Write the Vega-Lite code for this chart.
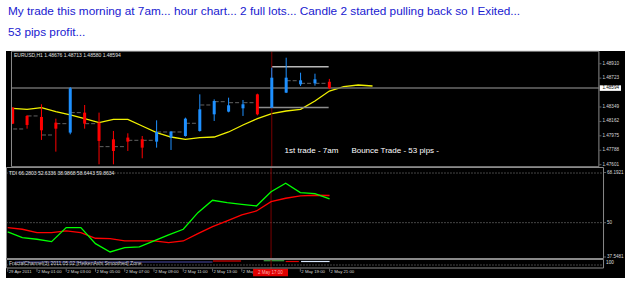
{
  "$schema": "https://vega.github.io/schema/vega-lite/v6.json",
  "background": "#ffffff",
  "padding": {"left": 5, "top": 5, "right": 0, "bottom": 4},
  "bounds": "flush",
  "spacing": 0,
  "title": {
    "text": ["My trade this morning at 7am... hour chart... 2 full lots... Candle 2 started pulling back so I Exited...", "53 pips profit..."],
    "anchor": "start", "frame": "group",
    "font": "Liberation Sans",
    "fontSize": 11.8, "fontWeight": "normal", "color": "#2020d0",
    "lineHeight": 21, "offset": 12, "dx": 2
  },
  "datasets": {
    "one": [{}],
    "candles": [
      {"i": 0, "o": 1.48341, "h": 1.48345, "l": 1.48128, "c": 1.48133, "d": "down"},
      {"i": 1, "o": 1.48233, "h": 1.48246, "l": 1.48068, "c": 1.48116, "d": "down"},
      {"i": 2, "o": 1.48220, "h": 1.48384, "l": 1.47922, "c": 1.48047, "d": "down"},
      {"i": 3, "o": 1.48146, "h": 1.48198, "l": 1.47770, "c": 1.48068, "d": "down"},
      {"i": 4, "o": 1.48017, "h": 1.48608, "l": 1.47995, "c": 1.48591, "d": "up"},
      {"i": 5, "o": 1.48276, "h": 1.48375, "l": 1.48068, "c": 1.48133, "d": "down"},
      {"i": 6, "o": 1.48146, "h": 1.48276, "l": 1.47606, "c": 1.47909, "d": "down"},
      {"i": 7, "o": 1.47930, "h": 1.48038, "l": 1.47606, "c": 1.47779, "d": "down"},
      {"i": 8, "o": 1.47952, "h": 1.48008, "l": 1.47779, "c": 1.47900, "d": "down"},
      {"i": 9, "o": 1.47930, "h": 1.47973, "l": 1.47684, "c": 1.47822, "d": "down"},
      {"i": 10, "o": 1.47900, "h": 1.48176, "l": 1.47822, "c": 1.48025, "d": "up"},
      {"i": 11, "o": 1.47952, "h": 1.48038, "l": 1.47792, "c": 1.48030, "d": "up"},
      {"i": 12, "o": 1.47973, "h": 1.48211, "l": 1.47965, "c": 1.48198, "d": "up"},
      {"i": 13, "o": 1.48038, "h": 1.48513, "l": 1.48030, "c": 1.48319, "d": "up"},
      {"i": 14, "o": 1.48254, "h": 1.48448, "l": 1.48168, "c": 1.48427, "d": "up"},
      {"i": 15, "o": 1.48289, "h": 1.48470, "l": 1.48280, "c": 1.48371, "d": "up"},
      {"i": 16, "o": 1.48332, "h": 1.48440, "l": 1.48233, "c": 1.48384, "d": "up"},
      {"i": 17, "o": 1.48513, "h": 1.48522, "l": 1.48241, "c": 1.48254, "d": "down"},
      {"i": 18, "o": 1.48341, "h": 1.48859, "l": 1.48332, "c": 1.48729, "d": "up"},
      {"i": 19, "o": 1.48535, "h": 1.48988, "l": 1.48530, "c": 1.48729, "d": "up"},
      {"i": 20, "o": 1.48643, "h": 1.48794, "l": 1.48621, "c": 1.48695, "d": "up"},
      {"i": 21, "o": 1.48656, "h": 1.48781, "l": 1.48626, "c": 1.48708, "d": "up"},
      {"i": 22, "o": 1.48676, "h": 1.48713, "l": 1.48580, "c": 1.48594, "d": "down"}
    ],
    "dashes": [
      {"i": 0, "v": 1.48064}, {"i": 1, "v": 1.48233}, {"i": 2, "v": 1.47986}, {"i": 3, "v": 1.48133},
      {"i": 4, "v": 1.48276}, {"i": 5, "v": 1.48133}, {"i": 6, "v": 1.47835}, {"i": 7, "v": 1.47835},
      {"i": 8, "v": 1.47917}, {"i": 9, "v": 1.47917}, {"i": 10, "v": 1.48025}, {"i": 11, "v": 1.48025},
      {"i": 12, "v": 1.48138}, {"i": 13, "v": 1.48375}, {"i": 14, "v": 1.48418}, {"i": 15, "v": 1.48405},
      {"i": 16, "v": 1.48405}, {"i": 19, "v": 1.48690}, {"i": 20, "v": 1.48656}, {"i": 21, "v": 1.48656}
    ],
    "ma": [
      {"i": 0, "v": 1.48332}, {"i": 1, "v": 1.48319}, {"i": 2, "v": 1.48341}, {"i": 3, "v": 1.48289},
      {"i": 4, "v": 1.48246}, {"i": 5, "v": 1.48198}, {"i": 6, "v": 1.48146}, {"i": 7, "v": 1.48189},
      {"i": 8, "v": 1.48189}, {"i": 9, "v": 1.48103}, {"i": 10, "v": 1.48017}, {"i": 11, "v": 1.47960},
      {"i": 12, "v": 1.47930}, {"i": 13, "v": 1.47952}, {"i": 14, "v": 1.47960}, {"i": 15, "v": 1.48025},
      {"i": 16, "v": 1.48116}, {"i": 17, "v": 1.48198}, {"i": 18, "v": 1.48263}, {"i": 19, "v": 1.48297},
      {"i": 20, "v": 1.48319}, {"i": 21, "v": 1.48427}, {"i": 22, "v": 1.48556}, {"i": 23, "v": 1.48613},
      {"i": 24, "v": 1.48634}, {"i": 25, "v": 1.48621}
    ],
    "levels": [
      {"a": 17, "b": 21.95, "v": 1.48341, "k": "entry"},
      {"a": 18, "b": 21.95, "v": 1.48871, "k": "high"}
    ],
    "cur": [{"v": 1.48594, "t": "1.48594"}],
    "pricelabels": [{"v": 1.4891}, {"v": 1.48723}, {"v": 1.48349}, {"v": 1.48162}, {"v": 1.47975}, {"v": 1.47788}, {"v": 1.47601}],
    "notes": [
      {"i": 18.89, "v": 1.47772, "t": "1st trade - 7am"},
      {"i": 23.53, "v": 1.47772, "t": "Bounce Trade - 53 pips -"}
    ],
    "tdi": [
      {"i": 0, "g": 46.63, "r": 48.19}, {"i": 1, "g": 44.56, "r": 47.61}, {"i": 2, "g": 43.98, "r": 46.37},
      {"i": 3, "g": 43.11, "r": 46.37}, {"i": 4, "g": 48.19, "r": 46.99}, {"i": 5, "g": 48.19, "r": 46.37},
      {"i": 6, "g": 42.38, "r": 44.34}, {"i": 7, "g": 39.37, "r": 44.2}, {"i": 8, "g": 40.93, "r": 43.36},
      {"i": 9, "g": 41.19, "r": 43.36}, {"i": 10, "g": 43.36, "r": 43.36}, {"i": 11, "g": 45.54, "r": 42.75},
      {"i": 12, "g": 47.61, "r": 43.36}, {"i": 13, "g": 53.63, "r": 46.01}, {"i": 14, "g": 58.12, "r": 48.55},
      {"i": 15, "g": 57.25, "r": 50.62}, {"i": 16, "g": 56.67, "r": 52.79}, {"i": 17, "g": 56.06, "r": 54.24},
      {"i": 18, "g": 61.24, "r": 57.62}, {"i": 19, "g": 64.29, "r": 58.85}, {"i": 20, "g": 60.88, "r": 59.68},
      {"i": 21, "g": 60.52, "r": 59.94}, {"i": 22, "g": 58.64, "r": 59.86}
    ],
    "tdilevels": [{"v": 68}, {"v": 50}],
    "tdilabels": [{"v": 68.1921, "t": "68.1921"}, {"v": 50, "t": "50"}, {"v": 37.5481, "t": "37.5481"}],
    "seg": [
      {"a": 0.5, "b": 14, "v": 16, "s": "blue"},
      {"a": 14.03, "b": 15.95, "v": 17, "s": "red"},
      {"a": 17.5, "b": 18.9, "v": 17.3, "s": "green"},
      {"a": 19.0, "b": 19.9, "v": 16.5, "s": "red"},
      {"a": 20.05, "b": 22.0, "v": 16.5, "s": "white"}
    ],
    "times": [
      {"i": 0, "t": "29 Apr 2011"}, {"i": 2, "t": "2 May 01:00"}, {"i": 4, "t": "2 May 03:00"},
      {"i": 6, "t": "2 May 05:00"}, {"i": 8, "t": "2 May 07:00"}, {"i": 10, "t": "2 May 09:00"},
      {"i": 12, "t": "2 May 11:00"}, {"i": 14, "t": "2 May 13:00"}, {"i": 16, "t": "2 May"},
      {"i": 20, "t": "2 May 19:00"}, {"i": 22, "t": "2 May 21:00"}
    ]
  },
  "config": {
    "view": {"stroke": null},
    "text": {"font": "Liberation Sans"}
  },
  "vconcat": [
    {
      "width": 620, "height": 116,
      "view": {"fill": "#000000", "stroke": null},
      "layer": [
        {
          "data": {"name": "ma"},
          "mark": {"type": "line", "color": "#f0f000", "strokeWidth": 1.3},
          "encoding": {
            "x": {"field": "i", "type": "quantitative", "scale": {"domain": [-0.116, 42.26], "nice": false, "zero": false}, "axis": null},
            "y": {"field": "v", "type": "quantitative", "scale": {"domain": [1.47571, 1.49075], "nice": false, "zero": false}, "axis": null}
          }
        },
        {
          "data": {"name": "cur"},
          "mark": {"type": "rule", "color": "#6a6a6a", "strokeWidth": 1.5},
          "encoding": {
            "x": {"datum": -0.082, "type": "quantitative", "axis": null}, "x2": {"datum": 40.725},
            "y": {"field": "v", "type": "quantitative", "axis": null}
          }
        },
        {
          "data": {"name": "levels"},
          "mark": {"type": "rule", "strokeWidth": 1.5},
          "encoding": {
            "x": {"field": "a", "type": "quantitative", "axis": null}, "x2": {"field": "b"},
            "y": {"field": "v", "type": "quantitative", "axis": null},
            "color": {"field": "k", "type": "nominal", "scale": {"domain": ["up", "down", "entry", "high", "blue", "red", "green", "white"], "range": ["#1e90ff", "#ff0000", "#8c8c8c", "#b8b8b8", "#4a4aa8", "#e00000", "#3fa03f", "#d8e8ff"]}, "legend": null}
          }
        },
        {
          "data": {"name": "one"},
          "mark": {"type": "rule", "color": "#7a0000", "strokeWidth": 1},
          "encoding": {"x": {"datum": 18, "type": "quantitative", "axis": null}, "y": {"datum": 1.47571, "type": "quantitative", "axis": null}, "y2": {"datum": 1.49075}}
        },
        {
          "data": {"name": "dashes"},
          "mark": {"type": "tick", "orient": "horizontal", "size": 4, "thickness": 1, "xOffset": 2.5, "color": "#8c8c8c"},
          "encoding": {"x": {"field": "i", "type": "quantitative", "axis": null}, "y": {"field": "v", "type": "quantitative", "axis": null}}
        },
        {
          "data": {"name": "dashes"},
          "mark": {"type": "tick", "orient": "horizontal", "size": 4, "thickness": 1, "xOffset": 8.5, "color": "#8c8c8c"},
          "encoding": {"x": {"field": "i", "type": "quantitative", "axis": null}, "y": {"field": "v", "type": "quantitative", "axis": null}}
        },
        {
          "data": {"name": "candles"},
          "mark": {"type": "rule", "strokeWidth": 1},
          "encoding": {
            "x": {"field": "i", "type": "quantitative", "axis": null},
            "y": {"field": "l", "type": "quantitative", "axis": null}, "y2": {"field": "h"},
            "color": {"field": "d", "type": "nominal", "scale": {"domain": ["up", "down", "entry", "high", "blue", "red", "green", "white"], "range": ["#1e90ff", "#ff0000", "#8c8c8c", "#b8b8b8", "#4a4aa8", "#e00000", "#3fa03f", "#d8e8ff"]}, "legend": null}
          }
        },
        {
          "data": {"name": "candles"},
          "mark": {"type": "bar", "width": 3},
          "encoding": {
            "x": {"field": "i", "type": "quantitative", "axis": null},
            "y": {"field": "o", "type": "quantitative", "axis": null}, "y2": {"field": "c"},
            "color": {"field": "d", "type": "nominal", "scale": {"domain": ["up", "down", "entry", "high", "blue", "red", "green", "white"], "range": ["#1e90ff", "#ff0000", "#8c8c8c", "#b8b8b8", "#4a4aa8", "#e00000", "#3fa03f", "#d8e8ff"]}, "legend": null}
          }
        },
        {
          "data": {"name": "notes"},
          "mark": {"type": "text", "align": "left", "baseline": "middle", "fontSize": 8, "color": "#ffffff"},
          "encoding": {"x": {"field": "i", "type": "quantitative", "axis": null}, "y": {"field": "v", "type": "quantitative", "axis": null}, "text": {"field": "t"}}
        },
        {
          "data": {"name": "one"},
          "mark": {"type": "text", "align": "left", "baseline": "middle", "fontSize": 5, "color": "#e0e0e0", "text": "EURUSD,H1  1.48676 1.48713 1.48580 1.48594"},
          "encoding": {"x": {"datum": 0.09, "type": "quantitative", "axis": null}, "y": {"datum": 1.49023, "type": "quantitative", "axis": null}}
        },
        {
          "data": {"name": "pricelabels"},
          "mark": {"type": "tick", "orient": "horizontal", "size": 2, "thickness": 1, "xOffset": 1.5, "color": "#8a8a8a"},
          "encoding": {"x": {"datum": 40.725, "type": "quantitative", "axis": null}, "y": {"field": "v", "type": "quantitative", "axis": null}}
        },
        {
          "data": {"name": "pricelabels"},
          "mark": {"type": "text", "align": "left", "baseline": "middle", "fontSize": 4.6, "dx": 3.5, "color": "#d8d8d8"},
          "encoding": {"x": {"datum": 40.725, "type": "quantitative", "axis": null}, "y": {"field": "v", "type": "quantitative", "axis": null}, "text": {"field": "v", "type": "quantitative", "format": ".5f"}}
        },
        {
          "data": {"name": "one"},
          "mark": {"type": "rect", "color": "#ffffff"},
          "encoding": {"x": {"datum": 40.78, "type": "quantitative", "axis": null}, "x2": {"datum": 42.26}, "y": {"datum": 1.48558, "type": "quantitative", "axis": null}, "y2": {"datum": 1.4863}}
        },
        {
          "data": {"name": "cur"},
          "mark": {"type": "text", "align": "left", "baseline": "middle", "fontSize": 4.6, "dx": 1, "color": "#000000"},
          "encoding": {"x": {"datum": 40.9, "type": "quantitative", "axis": null}, "y": {"field": "v", "type": "quantitative", "axis": null}, "text": {"field": "t"}}
        },
        {
          "data": {"name": "one"},
          "mark": {"type": "rect", "fillOpacity": 0, "stroke": "#8a8a8a", "strokeWidth": 1},
          "encoding": {"x": {"datum": -0.082, "type": "quantitative", "axis": null}, "x2": {"datum": 40.725}, "y": {"datum": 1.47575, "type": "quantitative", "axis": null}, "y2": {"datum": 1.49071}}
        }
      ]
    },
    {
      "width": 620, "height": 92,
      "view": {"fill": "#000000", "stroke": null},
      "layer": [
        {
          "data": {"name": "tdilevels"},
          "mark": {"type": "rule", "color": "#8a8a8a", "strokeDash": [1, 2]},
          "encoding": {
            "x": {"datum": -0.082, "type": "quantitative", "scale": {"domain": [-0.116, 42.26], "nice": false, "zero": false}, "axis": null}, "x2": {"datum": 40.725},
            "y": {"field": "v", "type": "quantitative", "scale": {"domain": [37.5481, 68.1921], "range": [90, 5.5], "nice": false, "zero": false}, "axis": null}
          }
        },
        {
          "data": {"name": "one"},
          "mark": {"type": "rule", "color": "#7a0000", "strokeWidth": 1},
          "encoding": {"x": {"datum": 18, "type": "quantitative", "axis": null}, "y": {"datum": 37.0, "type": "quantitative", "axis": null}, "y2": {"datum": 70.0}}
        },
        {
          "data": {"name": "tdi"},
          "mark": {"type": "line", "color": "#ff0000", "strokeWidth": 1.3},
          "encoding": {"x": {"field": "i", "type": "quantitative", "axis": null}, "y": {"field": "r", "type": "quantitative", "axis": null}}
        },
        {
          "data": {"name": "tdi"},
          "mark": {"type": "line", "color": "#00ff00", "strokeWidth": 1.3},
          "encoding": {"x": {"field": "i", "type": "quantitative", "axis": null}, "y": {"field": "g", "type": "quantitative", "axis": null}}
        },
        {
          "data": {"name": "one"},
          "mark": {"type": "text", "align": "left", "baseline": "middle", "fontSize": 5, "color": "#e0e0e0", "text": "TDI 66.2803 52.6336 38.9868 58.6443 59.8634"},
          "encoding": {"x": {"datum": 0.09, "type": "quantitative", "axis": null}, "y": {"datum": 68.0, "type": "quantitative", "axis": null}}
        },
        {
          "data": {"name": "tdilabels"},
          "mark": {"type": "tick", "orient": "horizontal", "size": 2, "thickness": 1, "xOffset": 1.5, "color": "#8a8a8a"},
          "encoding": {"x": {"datum": 40.725, "type": "quantitative", "axis": null}, "y": {"field": "v", "type": "quantitative", "axis": null}}
        },
        {
          "data": {"name": "tdilabels"},
          "mark": {"type": "text", "align": "left", "baseline": "middle", "fontSize": 4.6, "dx": 3.5, "color": "#d8d8d8"},
          "encoding": {"x": {"datum": 40.725, "type": "quantitative", "axis": null}, "y": {"field": "v", "type": "quantitative", "axis": null}, "text": {"field": "t"}}
        },
        {
          "data": {"name": "one"},
          "mark": {"type": "rect", "fillOpacity": 0, "stroke": "#8a8a8a", "strokeWidth": 1},
          "encoding": {"x": {"datum": -0.082, "type": "quantitative", "axis": null}, "x2": {"datum": 40.725}, "y": {"datum": 37.004, "type": "quantitative", "axis": null}, "y2": {"datum": 70.005}}
        }
      ]
    },
    {
      "width": 620, "height": 19,
      "view": {"fill": "#000000", "stroke": null},
      "layer": [
        {
          "data": {"name": "seg"},
          "mark": {"type": "rule", "strokeWidth": 1.2},
          "encoding": {
            "x": {"field": "a", "type": "quantitative", "scale": {"domain": [-0.116, 42.26], "nice": false, "zero": false}, "axis": null},
            "x2": {"field": "b"},
            "y": {"field": "v", "type": "quantitative", "scale": {"domain": [0, 19], "nice": false, "zero": false}, "axis": null},
            "color": {"field": "s", "type": "nominal", "scale": {"domain": ["up", "down", "entry", "high", "blue", "red", "green", "white"], "range": ["#1e90ff", "#ff0000", "#8c8c8c", "#b8b8b8", "#4a4aa8", "#e00000", "#3fa03f", "#d8e8ff"]}, "legend": null}
          }
        },
        {
          "data": {"name": "one"},
          "mark": {"type": "rule", "color": "#8a8a8a", "strokeDash": [1, 2]},
          "encoding": {"x": {"datum": -0.082, "type": "quantitative", "axis": null}, "x2": {"datum": 40.725}, "y": {"datum": 13, "type": "quantitative", "axis": null}}
        },
        {
          "data": {"name": "one"},
          "mark": {"type": "text", "align": "left", "baseline": "middle", "fontSize": 5, "color": "#d0d0d0", "text": "FractalChannel(3) 2011.05.02 [HeikenAshi Smoothed] Zone"},
          "encoding": {"x": {"datum": 0.09, "type": "quantitative", "axis": null}, "y": {"datum": 15.3, "type": "quantitative", "axis": null}}
        },
        {
          "data": {"name": "one"},
          "mark": {"type": "text", "align": "left", "baseline": "middle", "fontSize": 4.6, "color": "#e0e0e0", "text": "100"},
          "encoding": {"x": {"datum": 40.9, "type": "quantitative", "axis": null}, "y": {"datum": 15, "type": "quantitative", "axis": null}}
        },
        {
          "data": {"name": "times"},
          "mark": {"type": "tick", "orient": "vertical", "size": 3, "thickness": 1, "color": "#8a8a8a"},
          "encoding": {"x": {"field": "i", "type": "quantitative", "axis": null}, "y": {"datum": 7.8, "type": "quantitative", "axis": null}}
        },
        {
          "data": {"name": "times"},
          "mark": {"type": "text", "align": "left", "baseline": "middle", "fontSize": 4.3, "dx": 1, "color": "#d8d8d8"},
          "encoding": {"x": {"field": "i", "type": "quantitative", "axis": null}, "y": {"datum": 5.6, "type": "quantitative", "axis": null}, "text": {"field": "t"}}
        },
        {
          "data": {"name": "one"},
          "mark": {"type": "rule", "color": "#7a0000", "strokeWidth": 1},
          "encoding": {"x": {"datum": 18, "type": "quantitative", "axis": null}, "y": {"datum": 9, "type": "quantitative", "axis": null}, "y2": {"datum": 19}}
        },
        {
          "data": {"name": "one"},
          "mark": {"type": "rect", "color": "#e00000"},
          "encoding": {"x": {"datum": 16.77, "type": "quantitative", "axis": null}, "x2": {"datum": 19.16}, "y": {"datum": 1.8, "type": "quantitative", "axis": null}, "y2": {"datum": 9.2}}
        },
        {
          "data": {"name": "one"},
          "mark": {"type": "text", "align": "center", "baseline": "middle", "fontSize": 4.5, "color": "#ffb0b0", "text": "2 May 17:00"},
          "encoding": {"x": {"datum": 17.96, "type": "quantitative", "axis": null}, "y": {"datum": 5.5, "type": "quantitative", "axis": null}}
        },
        {
          "data": {"name": "one"},
          "mark": {"type": "rect", "fillOpacity": 0, "stroke": "#8a8a8a", "strokeWidth": 1},
          "encoding": {"x": {"datum": -0.082, "type": "quantitative", "axis": null}, "x2": {"datum": 40.725}, "y": {"datum": 10, "type": "quantitative", "axis": null}, "y2": {"datum": 18.5}}
        }
      ]
    }
  ]
}
